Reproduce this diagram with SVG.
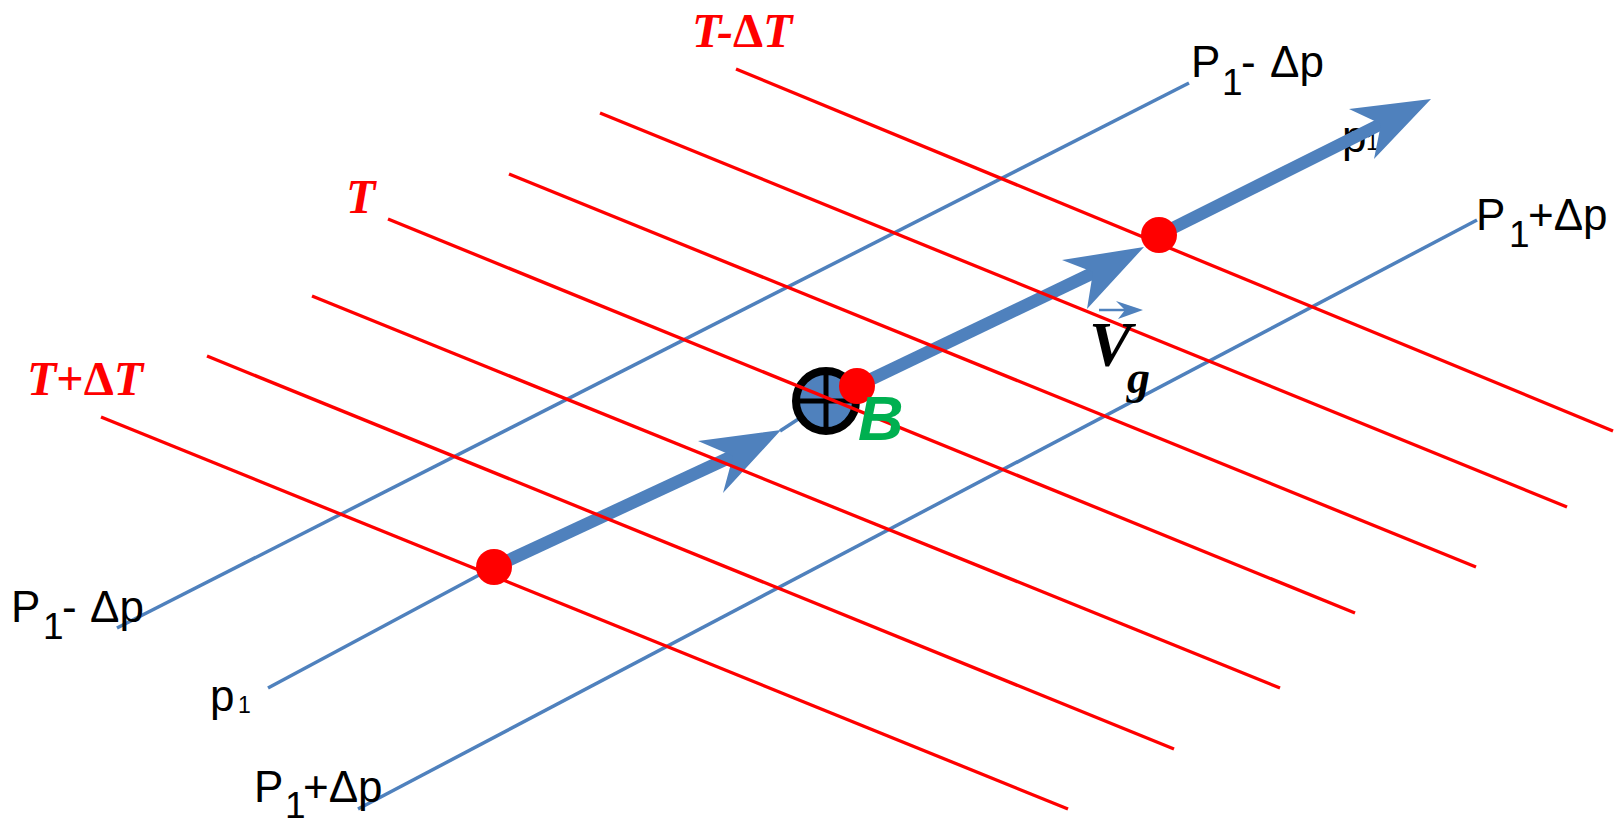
<svg xmlns="http://www.w3.org/2000/svg" width="1616" height="820" viewBox="0 0 1616 820">
<style>
.red{stroke:#FF0000;stroke-width:3.3;fill:none}
.blue{stroke:#4F81BD;stroke-width:3.5;fill:none}
.shaft{stroke:#4F81BD;stroke-width:12.5;fill:none}
.head{fill:#4F81BD}
.dot{fill:#FF0000}
.tl{font-family:"Liberation Serif","Times New Roman",serif;font-weight:bold;font-style:italic;font-size:48px;fill:#FF0000}
.up{font-style:normal}
.pl{font-family:"Liberation Sans",Arial,sans-serif;font-size:44px;fill:#000}
.sub{font-size:37px}
.small{font-size:23px}
.vg{font-family:"Liberation Serif","Times New Roman",serif;font-weight:bold;font-style:italic;fill:#000}
</style>
<rect width="1616" height="820" fill="#fff"/>
<g id="labels-behind">
<text class="pl" x="1342" y="152" font-size="45">p<tspan class="small" x="1366" y="150">1</tspan></text>
</g>
<g id="connectors">
<g id="isobars-p">
<line class="blue" x1="117" y1="628" x2="1189" y2="83"/>
<line class="blue" x1="268" y1="688" x2="494" y2="567"/>
<line class="blue" x1="780" y1="431" x2="826" y2="401"/>
<line class="blue" x1="358" y1="809" x2="1477" y2="220"/>
</g>
<g id="velocity-arrows">
<line class="shaft" x1="494" y1="567" x2="735" y2="455"/>
<polygon class="head" points="781,430 698,441 733,456 723,493"/>
<line class="shaft" x1="857" y1="386" x2="1095" y2="272"/>
<polygon class="head" points="1144,247 1062,260 1093,272 1087,309"/>
<line class="shaft" x1="1159" y1="235" x2="1383" y2="123"/>
<polygon class="head" points="1431,99 1349,109 1381,124 1374,159"/>
</g>
</g>
<g id="node-B">
<circle cx="826" cy="401" r="30" fill="#4F81BD" stroke="#000" stroke-width="8"/>
<line x1="826" y1="371" x2="826" y2="431" stroke="#000" stroke-width="5"/>
<line x1="796" y1="401" x2="856" y2="401" stroke="#000" stroke-width="5"/>
</g>
<g id="isotherms">
<line class="red" x1="736" y1="69" x2="1613" y2="431"/>
<line class="red" x1="600" y1="113" x2="1567" y2="507"/>
<line class="red" x1="509" y1="174" x2="1476" y2="567"/>
<line class="red" x1="388" y1="219" x2="1355" y2="613"/>
<line class="red" x1="312" y1="296" x2="1280" y2="688"/>
<line class="red" x1="207" y1="356" x2="1174" y2="749"/>
<line class="red" x1="101" y1="417" x2="1068" y2="809"/>
</g>
<g id="dots">
<circle class="dot" cx="494" cy="567" r="18"/>
<circle class="dot" cx="857" cy="386" r="18"/>
<circle class="dot" cx="1159" cy="235" r="18"/>
</g>
<g id="label-B">
<text x="858" y="440" font-family="Liberation Sans,Arial,sans-serif" font-weight="bold" font-style="italic" font-size="63" fill="#00B050">B</text>
</g>
<g id="label-Vg">
<line x1="1099" y1="310" x2="1128" y2="310" stroke="#4F81BD" stroke-width="2.5"/>
<polygon class="head" points="1116,301 1143,310 1118,319 1125,310"/>
<text class="vg" x="1089" y="366" font-size="64">V</text>
<text class="vg" x="1127" y="393" font-size="46">g</text>
</g>
<g id="temp-labels">
<text class="tl" x="692" y="47">T-<tspan class="up">Δ</tspan>T</text>
<text class="tl" x="346" y="213">T</text>
<text class="tl" x="27" y="395">T<tspan class="up">+Δ</tspan>T</text>
</g>
<g id="pressure-labels">
<text class="pl" x="1191" y="77">P<tspan class="sub" x="1222" y="95">1</tspan><tspan x="1241" y="77">-</tspan><tspan x="1270" y="77">Δp</tspan></text>
<text class="pl" x="1476" y="230">P<tspan class="sub" x="1509" y="247">1</tspan><tspan x="1528" y="230">+Δp</tspan></text>
<text class="pl" x="11" y="622">P<tspan class="sub" x="43" y="639">1</tspan><tspan x="62" y="622">-</tspan><tspan x="90" y="622">Δp</tspan></text>
<text class="pl" x="254" y="802">P<tspan class="sub" x="285" y="818">1</tspan><tspan x="303" y="802">+Δp</tspan></text>
<text class="pl" x="210" y="711" font-size="45">p<tspan class="small" x="238" y="713">1</tspan></text>
</g>
</svg>
